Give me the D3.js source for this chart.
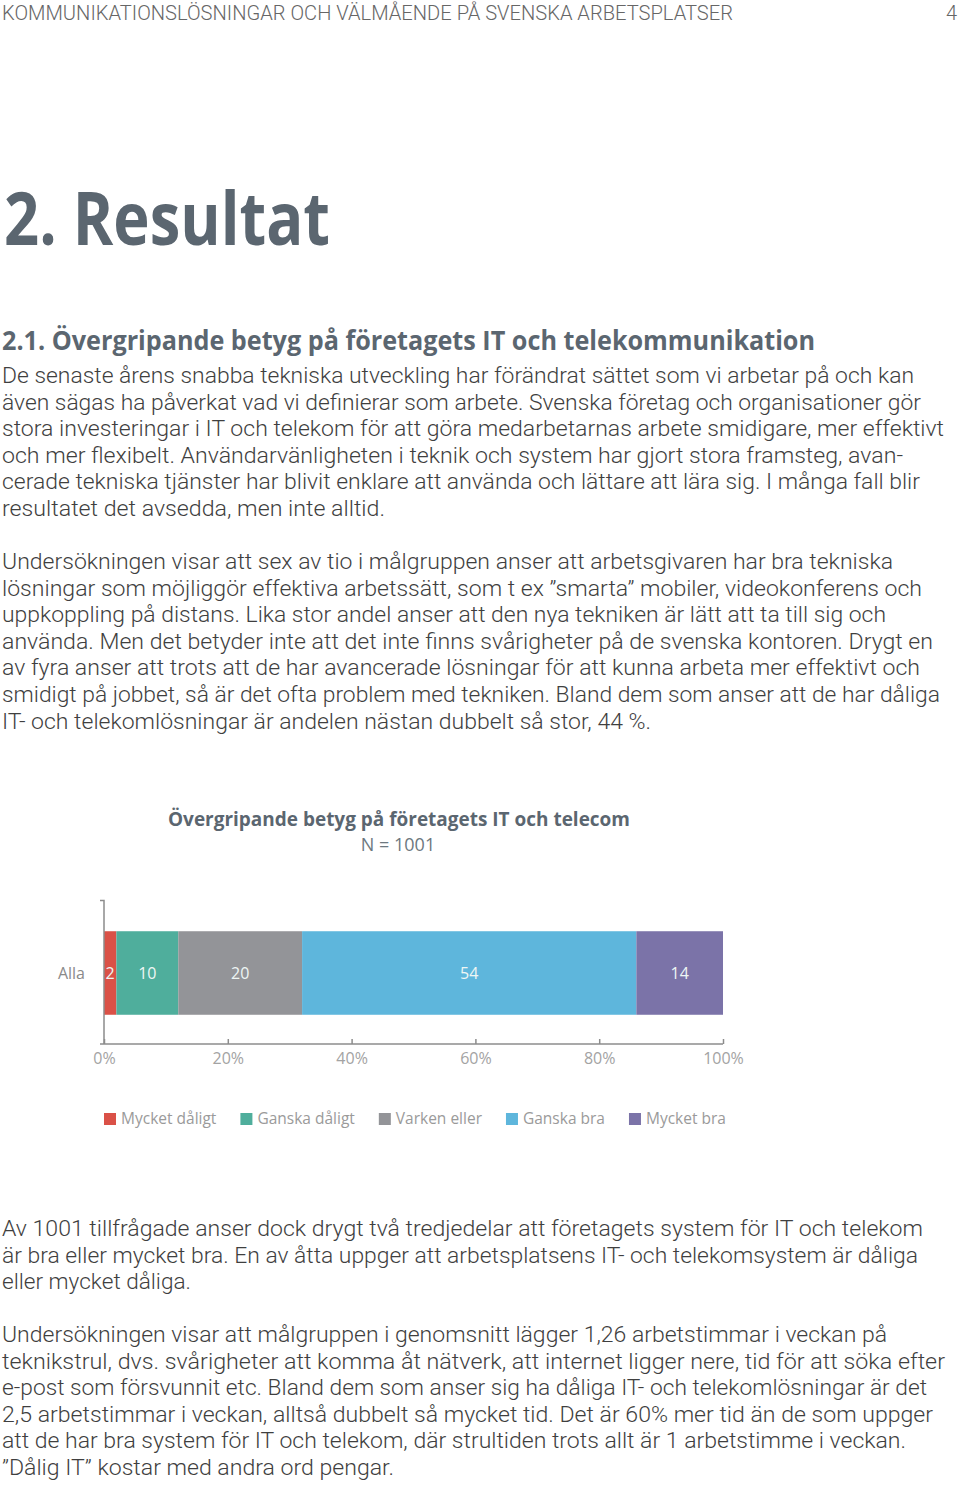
<!DOCTYPE html>
<html>
<head>
<meta charset="utf-8">
<title>Övergripande betyg på företagets IT och telecom</title>
<style>
body {
  margin: 0;
  background: #fff;
}

svg {
  display: block;
}

.page text {
  font-family: Roboto, "Open Sans", sans-serif;
}

.body-line {
  font-size: 22px;
  font-weight: 300;
  fill: #3f3f3f;
}

.axis path, .axis line {
  stroke: #8c8c8c;
  stroke-width: 1.5px;
}

.axis text {
  font-family: "Open Sans", sans-serif;
  font-size: 16px;
  fill: #a3a3a3;
}
</style>
<script src="https://d3js.org/d3.v7.min.js"></script>
</head>
<body>
<script>
// chart data
const categories = ['Mycket dåligt', 'Ganska dåligt', 'Varken eller', 'Ganska bra', 'Mycket bra'];
const group = 'Alla';
const values = [2, 10, 20, 54, 14];
const ticks = [0, 20, 40, 60, 80, 100];
const colors = ['#da5147', '#4fae9c', '#939498', '#5eb6dc', '#7b73a8'];

// page text
const header = 'KOMMUNIKATIONSLÖSNINGAR OCH VÄLMÅENDE PÅ SVENSKA ARBETSPLATSER';
const para1 = [
  'De senaste årens snabba tekniska utveckling har förändrat sättet som vi arbetar på och kan',
  'även sägas ha påverkat vad vi definierar som arbete. Svenska företag och organisationer gör',
  'stora investeringar i IT och telekom för att göra medarbetarnas arbete smidigare, mer effektivt',
  'och mer flexibelt. Användarvänligheten i teknik och system har gjort stora framsteg, avan-',
  'cerade tekniska tjänster har blivit enklare att använda och lättare att lära sig. I många fall blir',
  'resultatet det avsedda, men inte alltid.'
];
const para2 = [
  'Undersökningen visar att sex av tio i målgruppen anser att arbetsgivaren har bra tekniska',
  'lösningar som möjliggör effektiva arbetssätt, som t ex ”smarta” mobiler, videokonferens och',
  'uppkoppling på distans. Lika stor andel anser att den nya tekniken är lätt att ta till sig och',
  'använda. Men det betyder inte att det inte finns svårigheter på de svenska kontoren. Drygt en',
  'av fyra anser att trots att de har avancerade lösningar för att kunna arbeta mer effektivt och',
  'smidigt på jobbet, så är det ofta problem med tekniken. Bland dem som anser att de har dåliga',
  'IT- och telekomlösningar är andelen nästan dubbelt så stor, 44 %.'
];
const para3 = [
  'Av 1001 tillfrågade anser dock drygt två tredjedelar att företagets system för IT och telekom',
  'är bra eller mycket bra. En av åtta uppger att arbetsplatsens IT- och telekomsystem är dåliga',
  'eller mycket dåliga.'
];
const para4 = [
  'Undersökningen visar att målgruppen i genomsnitt lägger 1,26 arbetstimmar i veckan på',
  'teknikstrul, dvs. svårigheter att komma åt nätverk, att internet ligger nere, tid för att söka efter',
  'e-post som försvunnit etc. Bland dem som anser sig ha dåliga IT- och telekomlösningar är det',
  '2,5 arbetstimmar i veckan, alltså dubbelt så mycket tid. Det är 60% mer tid än de som uppger',
  'att de har bra system för IT och telekom, där strultiden trots allt är 1 arbetstimme i veckan.',
  '”Dålig IT” kostar med andra ord pengar.'
];

// measured line widths of the reference layout
const widths1 = [912, 919, 942, 901, 918, 383];
const widths2 = [891, 920, 884, 931, 918, 938, 649];
const widths3 = [921, 916, 189];
const widths4 = [885, 943, 925, 931, 904, 392];

const width = 960, height = 1485;

const svg = d3.select('body').append('svg')
  .attr('class', 'page')
  .attr('width', width)
  .attr('height', height);

// header
svg.append('text')
  .attr('x', 2).attr('y', 20)
  .attr('textLength', 731).attr('lengthAdjust', 'spacingAndGlyphs')
  .style('font-size', '20px').style('font-weight', 300).style('fill', '#666')
  .text(header);

svg.append('text')
  .attr('x', 957).attr('y', 20)
  .attr('text-anchor', 'end')
  .style('font-size', '20px').style('font-weight', 300).style('fill', '#666')
  .text('4');

svg.append('text')
  .attr('x', 4).attr('y', 245)
  .attr('textLength', 326).attr('lengthAdjust', 'spacingAndGlyphs')
  .style('font-family', '"Open Sans", sans-serif')
  .style('font-size', '74px').style('font-weight', 700).style('fill', '#5b6670')
  .text('2. Resultat');

svg.append('text')
  .attr('x', 2).attr('y', 350)
  .attr('textLength', 813).attr('lengthAdjust', 'spacingAndGlyphs')
  .style('font-family', '"Open Sans", sans-serif')
  .style('font-size', '26px').style('font-weight', 700).style('fill', '#5b6670')
  .text('2.1. Övergripande betyg på företagets IT och telekommunikation');

function paragraph(lines, lens, firstBaseline) {
  svg.append('g').selectAll('text')
    .data(lines)
    .join('text')
      .attr('class', 'body-line')
      .attr('x', 2)
      .attr('y', (d, i) => firstBaseline + i * 26.6)
      .attr('textLength', (d, i) => lens[i])
      .attr('lengthAdjust', 'spacingAndGlyphs')
      .text(d => d);
}

paragraph(para1, widths1, 383);
paragraph(para2, widths2, 569);
paragraph(para3, widths3, 1236);
paragraph(para4, widths4, 1342);

// chart
const chart = svg.append('g');

chart.append('text')
  .attr('x', 399).attr('y', 826)
  .attr('text-anchor', 'middle')
  .attr('textLength', 462).attr('lengthAdjust', 'spacingAndGlyphs')
  .style('font-family', '"Open Sans", sans-serif')
  .style('font-size', '19px').style('font-weight', 700).style('fill', '#5b6670')
  .text('Övergripande betyg på företagets IT och telecom');

chart.append('text')
  .attr('x', 398).attr('y', 851)
  .attr('text-anchor', 'middle')
  .style('font-family', '"Open Sans", sans-serif')
  .style('font-size', '18px').style('fill', '#6d7880')
  .text('N = 1001');

const x = d3.scaleLinear()
  .domain([0, 100])
  .range([104, 723]);

const y = d3.scaleBand()
  .domain([group])
  .range([902, 1044])
  .paddingInner(0)
  .paddingOuter(0.35);

let stackData = [Object.fromEntries(categories.map((c, i) => [c, values[i]]))];
const series = d3.stack().keys(categories)(stackData);

chart.append('g')
  .selectAll('rect')
  .data(series)
  .join('rect')
    .attr('x', d => x(d[0][0]))
    .attr('y', y(group))
    .attr('width', d => x(d[0][1]) - x(d[0][0]))
    .attr('height', y.bandwidth())
    .style('fill', (d, i) => colors[i]);

chart.append('g')
  .selectAll('text')
  .data(series)
  .join('text')
    .attr('x', d => (x(d[0][0]) + x(d[0][1])) / 2)
    .attr('y', y(group) + y.bandwidth() / 2)
    .attr('dy', '0.35em')
    .attr('text-anchor', 'middle')
    .style('font-family', '"Open Sans", sans-serif')
    .style('font-size', '16px')
    .style('fill', '#eef6f4')
    .text((d, i) => values[i]);

// y axis
const yAxis = chart.append('g')
  .attr('class', 'axis')
  .attr('transform', 'translate(104,0)')
  .call(d3.axisLeft(y).tickSize(0).tickSizeOuter(4).tickPadding(19));
yAxis.select('.domain').attr('d', 'M-4,900.5H0V1044');
yAxis.selectAll('text').style('fill', '#8a8a8a').attr('dy', '0.4em');

// x axis
const xAxis = chart.append('g')
  .attr('class', 'axis')
  .attr('transform', 'translate(0,1044)')
  .call(d3.axisTop(x).tickValues(ticks).tickSize(5).tickSizeOuter(0).tickFormat(d => d + '%'));
xAxis.select('.domain').attr('d', 'M100,0H723');
xAxis.selectAll('text').attr('y', 14).attr('dy', '0.35em');

// legend
const legend = chart.append('g').attr('transform', 'translate(0,1119)');
let lx = 104;
categories.forEach((c, i) => {
  const item = legend.append('g').attr('transform', 'translate(' + lx + ',0)');
  item.append('rect')
    .attr('x', 0).attr('y', -6)
    .attr('width', 12).attr('height', 12)
    .style('fill', colors[i]);
  const t = item.append('text')
    .attr('x', 17).attr('y', 0).attr('dy', '0.35em')
    .style('font-family', '"Open Sans", sans-serif')
    .style('font-size', '15.5px').style('fill', '#9a9a9a')
    .text(c);
  lx += 17 + t.node().getComputedTextLength() + 24;
});
</script>
</body>
</html>
